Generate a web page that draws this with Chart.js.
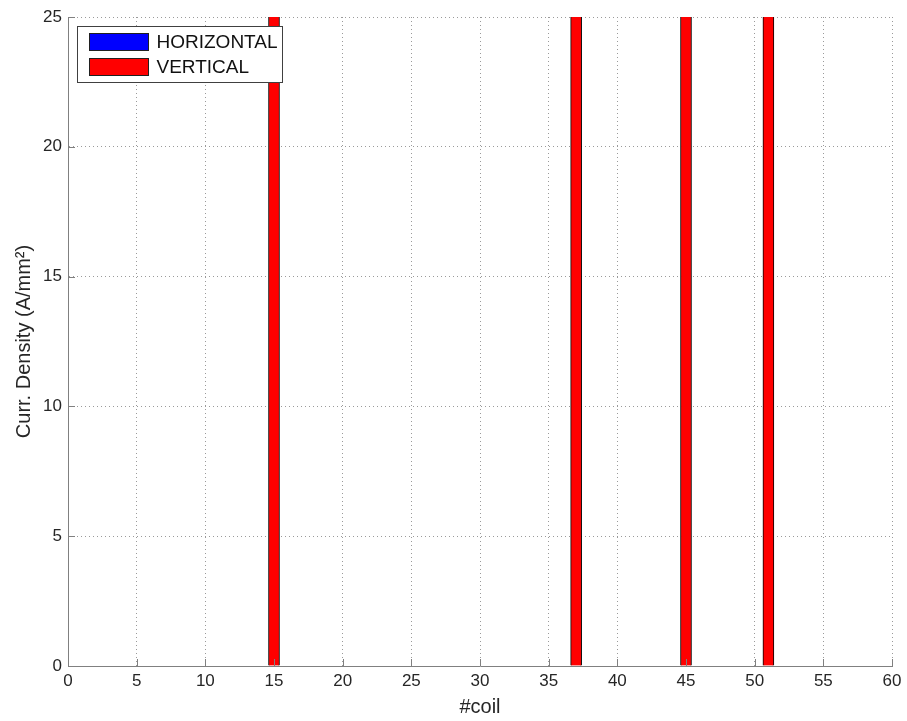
<!DOCTYPE html>
<html>
<head>
<meta charset="utf-8">
<script src="https://cdn.jsdelivr.net/npm/chart.js@4.4.1/dist/chart.umd.min.js"></script>
<style>
  html, body { margin: 0; padding: 0; background: #ffffff; }
  #wrap { width: 907px; height: 721px; }
</style>
</head>
<body>
<div id="wrap"><canvas id="c" width="907" height="721"></canvas></div>
<script>
// Coil numbers and current densities per coil group
const verticalCoils = [15, 37, 45, 51];
const verticalDensity = [30, 30, 30, 30];
const horizontalCoils = [];
const horizontalDensity = [];
const seriesLabels = ['HORIZONTAL', 'VERTICAL'];
const seriesColors = ['#0000ff', '#ff0000'];
const xTickValues = [0, 5, 10, 15, 20, 25, 30, 35, 40, 45, 50, 55, 60];
const yTickValues = [0, 5, 10, 15, 20, 25];
const xTitle = '#coil';
const yTitle = 'Curr. Density (A/mm\u00B2)';

const FONT = "'Liberation Sans', Arial, Helvetica, sans-serif";
const TEXT = '#262626';
const AXIS = '#808080';

const toPoints = (xs, ys) => xs.map((x, i) => ({ x: x, y: ys[i] }));

// Short inward tick marks on the left and bottom axes
const innerTicks = {
  id: 'innerTicks',
  afterDatasetsDraw(chart) {
    const { ctx, chartArea: a, scales: { x, y } } = chart;
    const len = 7;
    ctx.save();
    ctx.strokeStyle = AXIS;
    ctx.lineWidth = 1;
    ctx.beginPath();
    xTickValues.forEach(v => {
      const px = Math.round(x.getPixelForValue(v)) + 0.5;
      ctx.moveTo(px, a.bottom);
      ctx.lineTo(px, a.bottom - len);
    });
    yTickValues.forEach(v => {
      const py = Math.round(y.getPixelForValue(v)) + 0.5;
      ctx.moveTo(a.left, py);
      ctx.lineTo(a.left + len, py);
    });
    ctx.stroke();
    ctx.restore();
  }
};

// Boxed legend inside the upper-left corner of the plot
const boxLegend = {
  id: 'boxLegend',
  afterDraw(chart) {
    const { ctx, chartArea: a } = chart;
    const bx = a.left + 9.5, by = a.top + 9.5;
    const bw = 205, bh = 56;
    ctx.save();
    ctx.fillStyle = '#ffffff';
    ctx.fillRect(bx, by, bw, bh);
    ctx.strokeStyle = '#404040';
    ctx.lineWidth = 1;
    ctx.strokeRect(bx, by, bw, bh);
    ctx.font = '19px ' + FONT;
    ctx.textBaseline = 'middle';
    ctx.textAlign = 'left';
    chart.data.datasets.forEach((ds, i) => {
      const sy = by + 7 + i * 25;
      ctx.fillStyle = ds.backgroundColor;
      ctx.fillRect(bx + 12, sy, 59, 17);
      ctx.strokeStyle = '#202020';
      ctx.strokeRect(bx + 12, sy, 59, 17);
      ctx.fillStyle = '#111111';
      ctx.fillText(ds.label, bx + 79, sy + 9.5);
    });
    ctx.restore();
  }
};

new Chart(document.getElementById('c'), {
  type: 'bar',
  data: {
    datasets: [
      {
        label: seriesLabels[0],
        data: toPoints(horizontalCoils, horizontalDensity),
        backgroundColor: seriesColors[0],
        borderColor: '#000000',
        borderWidth: 1,
        barThickness: 11,
        grouped: false,
        clip: 0
      },
      {
        label: seriesLabels[1],
        data: toPoints(verticalCoils, verticalDensity),
        backgroundColor: seriesColors[1],
        borderColor: '#000000',
        borderWidth: 1,
        barThickness: 11,
        grouped: false,
        clip: 0
      }
    ]
  },
  options: {
    responsive: false,
    animation: false,
    devicePixelRatio: 1,
    layout: { padding: { top: 17, right: 15, left: 0, bottom: 0 } },
    plugins: {
      legend: { display: false },
      tooltip: { enabled: false }
    },
    scales: {
      x: {
        type: 'linear',
        min: 0,
        max: 60,
        offset: false,
        afterBuildTicks: s => { s.ticks = xTickValues.map(v => ({ value: v })); },
        afterFit: s => { s.height = 55; },
        ticks: {
          font: { family: FONT, size: 17 },
          color: TEXT,
          padding: 5,
          maxRotation: 0,
          autoSkip: false
        },
        grid: { color: '#9a9a9a', drawTicks: false, lineWidth: 1, offset: false },
        border: { display: true, color: AXIS, width: 1, dash: [1, 3] },
        title: {
          display: true,
          text: xTitle,
          font: { family: FONT, size: 20 },
          color: TEXT,
          padding: { top: 0, bottom: 2 }
        }
      },
      y: {
        type: 'linear',
        min: 0,
        max: 25,
        afterBuildTicks: s => { s.ticks = yTickValues.map(v => ({ value: v })); },
        afterFit: s => { s.width = 68; },
        ticks: {
          font: { family: FONT, size: 17 },
          color: TEXT,
          padding: 6
        },
        grid: { color: '#9a9a9a', drawTicks: false, lineWidth: 1 },
        border: { display: true, color: AXIS, width: 1, dash: [1, 3] },
        title: {
          display: true,
          text: yTitle,
          font: { family: FONT, size: 20 },
          color: TEXT,
          padding: { top: 12, bottom: 0 }
        }
      }
    }
  },
  plugins: [innerTicks, boxLegend]
});
</script>
</body>
</html>
